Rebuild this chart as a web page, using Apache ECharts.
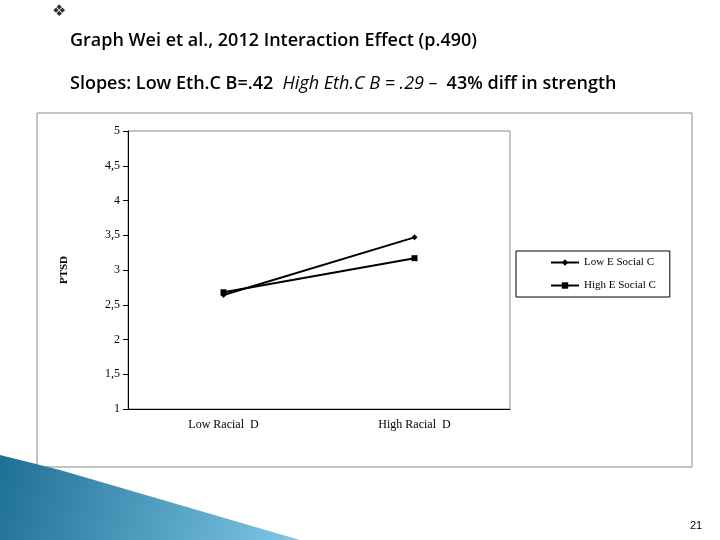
<!DOCTYPE html>
<html><head><meta charset="utf-8">
<script src="https://cdn.jsdelivr.net/npm/echarts@6/dist/echarts.min.js"></script>
<style>body{margin:0;background:#fff}#c{width:720px;height:540px}</style>
</head><body><div id="c"></div>
<script>
var categories = ['Low Racial  D', 'High Racial  D'];
var lowESocial = [2.64, 3.47];
var highESocial = [2.68, 3.17];

var chart = echarts.init(document.getElementById('c'));
var serif = 'Liberation Serif';
chart.setOption({
	animation: false,
	graphic: [
		{ type: 'text', left: 52, top: 4, style: { text: '❖', font: '16px DejaVu Sans', fill: '#333' } },
		{ type: 'text', left: 70, top: 32, style: { text: 'Graph Wei et al., 2012 Interaction Effect (p.490)', font: '600 18px "Open Sans"', fill: '#000' } },
		{ type: 'text', left: 70, top: 75, style: { rich: {
			a: { font: '600 18px "Open Sans"', fill: '#000' },
			b: { font: 'italic 18px "Open Sans"', fill: '#000' } },
			text: '{a|Slopes: Low Eth.C B=.42  }{b|High Eth.C B = .29 –}{a|  43% diff in strength}' } },
		{ type: 'rect', shape: { x: 37, y: 113, width: 655, height: 354 }, style: { fill: 'none', stroke: '#888', lineWidth: 1 } },
		{ type: 'polygon', shape: { points: [[0, 455], [60, 470], [180, 505], [300, 540], [0, 540]] },
			style: { fill: new echarts.graphic.LinearGradient(0, 0, 1, 1, [{ offset: 0, color: '#1e6f95' }, { offset: 1, color: '#7fc8e6' }]) } },
		{ type: 'text', left: 690, top: 520, style: { text: '21', font: '11px "Liberation Sans"', fill: '#000' } }
	],
	grid: { left: 128, right: 210, top: 131, bottom: 131, show: true, borderColor: '#888', borderWidth: 1 },
	legend: {
		orient: 'vertical', left: 516, top: 251, itemGap: 12, itemWidth: 28, itemHeight: 8,
		padding: [6, 14, 6, 34], borderColor: '#000', borderWidth: 1,
		textStyle: { fontFamily: serif, fontSize: 11, color: '#000' },
		data: ['Low E Social C', 'High E Social C']
	},
	xAxis: {
		type: 'category', data: categories, boundaryGap: true,
		axisLine: { lineStyle: { color: '#000' } },
		axisTick: { lineStyle: { color: '#000' } },
		axisLabel: { fontFamily: serif, fontSize: 12, color: '#000', margin: 10 }
	},
	yAxis: {
		type: 'value', min: 1, max: 5, interval: 0.5, name: 'PTSD', nameLocation: 'middle', nameGap: 58,
		nameTextStyle: { fontFamily: serif, fontSize: 11, fontWeight: 'bold', color: '#000' },
		axisLine: { show: true, lineStyle: { color: '#000' } },
		axisTick: { show: true, lineStyle: { color: '#000' } },
		splitLine: { show: false },
		axisLabel: { fontFamily: serif, fontSize: 12, color: '#000', formatter: function (v) { return String(v).replace('.', ','); } }
	},
	series: [
		{ name: 'Low E Social C', type: 'line', data: lowESocial, symbol: 'diamond', symbolSize: 6,
			lineStyle: { color: '#000', width: 2 }, itemStyle: { color: '#000' } },
		{ name: 'High E Social C', type: 'line', data: highESocial, symbol: 'rect', symbolSize: 6,
			lineStyle: { color: '#000', width: 2 }, itemStyle: { color: '#000' } }
	]
});
</script></body></html>
